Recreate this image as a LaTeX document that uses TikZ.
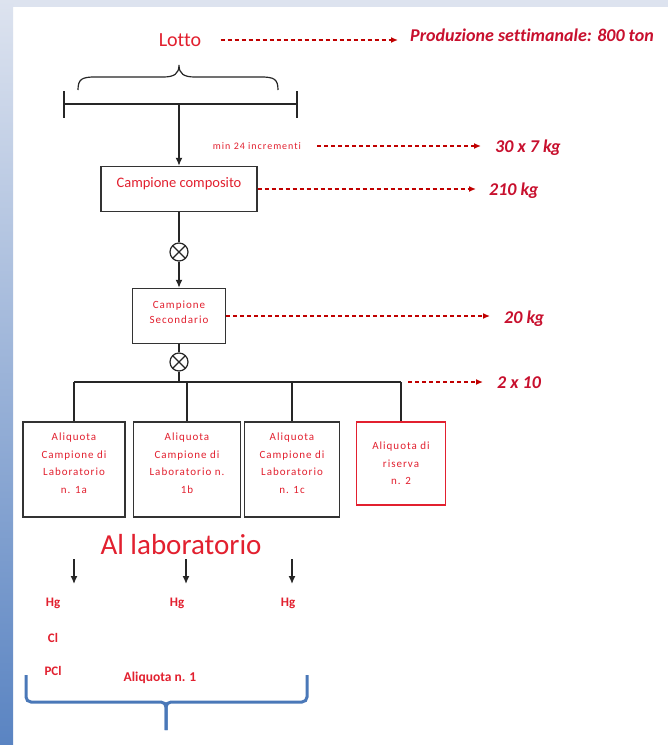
\documentclass[tikz,border=0pt]{standalone}
\usepackage{fontspec}
\setmainfont{Carlito}[Ligatures=NoCommon]
\usetikzlibrary{arrows.meta}

\definecolor{lotred}{HTML}{E2202F}
\definecolor{wtred}{HTML}{C8102E}
\definecolor{dashred}{HTML}{C00000}
\definecolor{bandtop}{HTML}{DDE3EF}
\definecolor{bandbot}{HTML}{5A84C2}
\definecolor{braceblue}{HTML}{4A78B8}

\tikzset{
    link/.style={line width=1.4pt, draw=black!85},
    flow/.style={link, -{Latex[length=8pt,width=7pt]}},
    dashto/.style={draw=dashred, line width=1.3pt, dash pattern=on 4pt off 3pt, -{Latex[length=7pt,width=6pt]}},
    weight/.style={anchor=west, text=wtred, font=\fontsize{18}{20}\selectfont\bfseries\itshape, inner sep=0pt},
    box/.style={draw=black!80, line width=1.4pt, inner sep=0pt},
    tiny/.style={text=lotred, font=\fontsize{11}{17.5}\selectfont\addfontfeature{LetterSpace=9}, align=center, inner sep=0pt},
    mixer/.style={circle, draw=black!85, line width=1.2pt, minimum size=18pt, inner sep=0pt,
        path picture={\draw[line width=1.2pt] (path picture bounding box.north west) -- (path picture bounding box.south east)
            (path picture bounding box.north east) -- (path picture bounding box.south west);}},
    analyte/.style={text=lotred, font=\fontsize{13}{15}\selectfont\bfseries, inner sep=0pt},
}

\begin{document}
\begin{tikzpicture}[x=1pt, y=-1pt]
    \useasboundingbox (0,0) rectangle (668,745);
    % slide background
    \fill[white] (0,0) rectangle (668,745);
    \fill[bandtop] (0,0) rectangle (668,7);
    \shade[top color=bandtop, bottom color=bandbot] (0,0) rectangle (13,745);

    % lotto
    \node[text=lotred, font=\fontsize{20}{22}\selectfont] (lotto) at (180,40) {Lotto};
    \node[weight] (prod) at (410,35) {Produzione settimanale: 800 ton};
    \draw[dashto] ([xshift=16pt]lotto.east) -- ([xshift=-12pt]prod.west |- lotto.east);

    \draw[link, line width=1.2pt] (78,90) .. controls (78,79) and (82,77) .. (95,77) -- (163,77)
        .. controls (174,77) and (179,74) .. (179,65) .. controls (179,74) and (184,77) .. (195,77)
        -- (261,77) .. controls (274,77) and (278,79) .. (278,90);

    \coordinate (lotL) at (64,104);
    \coordinate (lotR) at (297,104);
    \coordinate (lotC) at (179,104);
    \draw[link] (lotL) -- (lotR);
    \draw[link] (64,91) -- (64,118);
    \draw[link] (297,91) -- (297,118);

    % campione composito
    \node[box, minimum width=156pt, minimum height=45pt,
        label={[text=lotred, font=\fontsize{14.5}{16}\selectfont, yshift=5pt]center:Campione composito}] (comp) at (179,189) {};
    \draw[flow] (lotC) -- (comp);

    \node[tiny, font=\fontsize{10}{12}\selectfont\addfontfeature{LetterSpace=10}] (incr) at (257,146) {min 24 incrementi};
    \node[weight] (w30) at (495,148) {30 x 7 kg};
    \draw[dashto] ([xshift=16pt]incr.east) -- ([xshift=-14pt]w30.west |- incr.east);

    \node[weight] (w210) at (489,191) {210 kg};
    \draw[dashto, shorten >=13pt] (comp.east) -- (comp.east -| w210.west);

    % campione secondario
    \node[mixer] (mixA) at (179,252) {};
    \draw[link] (comp) -- (mixA);
    \node[box, minimum width=93pt, minimum height=55pt,
        label={[tiny, font=\fontsize{11}{15}\selectfont\addfontfeature{LetterSpace=9}, yshift=4pt]center:Campione\\Secondario}] (sec) at (179,316) {};
    \draw[flow] (mixA) -- (sec);
    \node[weight] (w20) at (504,319) {20 kg};
    \draw[dashto, shorten >=14pt] (sec.east) -- (sec.east -| w20.west);

    \node[mixer] (mixB) at (179,362) {};
    \draw[link] (sec) -- (mixB);
    \coordinate (split) at (179,382);
    \draw[link] (mixB) -- (split);

    % aliquote
    \node[box, minimum width=102pt, minimum height=95pt,
        label={[tiny, yshift=6.5pt]center:Aliquota\\Campione di\\Laboratorio\\n. 1a}] (ali1a) at (74,469.5) {};
    \node[box, minimum width=107pt, minimum height=95pt,
        label={[tiny, yshift=6.5pt]center:Aliquota\\Campione di\\Laboratorio n.\\1b}] (ali1b) at (187,469.5) {};
    \node[box, minimum width=95pt, minimum height=95pt,
        label={[tiny, yshift=6.5pt]center:Aliquota\\Campione di\\Laboratorio\\n. 1c}] (ali1c) at (292,469.5) {};
    \node[box, draw=lotred, line width=1.1pt, minimum width=89pt, minimum height=83pt,
        label={[tiny]center:Aliquota di\\riserva\\n. 2}] (aliris) at (401,463.5) {};

    \draw[link] (ali1a.north |- split) -- (aliris.north |- split);
    \foreach \b in {ali1a,ali1b,ali1c,aliris}
        \draw[link] (\b.north |- split) -- (\b.north);

    \coordinate (barR) at (402,382);
    \node[weight] (w2x10) at (497,383) {2 x 10};
    \draw[dashto, shorten <=6pt, shorten >=14pt] (barR) -- (barR -| w2x10.west);

    % al laboratorio
    \node[text=lotred, font=\fontsize{29}{31}\selectfont] (lab) at (181,545) {Al laboratorio};
    \foreach \b/\x in {ali1a/74, ali1b/186, ali1c/292}{
        \coordinate (\b-from) at (\x,559);
        \coordinate (\b-to) at (\x,584);
        \draw[flow] (\b-from) -- (\b-to);
    }

    \node[analyte] (hg1) at (53,603) {Hg};
    \node[analyte] (hg2) at (177,603) {Hg};
    \node[analyte] (hg3) at (288,603) {Hg};
    \node[analyte] (cl) at (53,638) {Cl};
    \node[analyte] (pcl) at (53,671) {PCl};
    \node[analyte, font=\fontsize{13.5}{15}\selectfont\bfseries] (aliq1) at (160,678) {Aliquota n. 1};

    \draw[braceblue, line width=3pt, rounded corners=5pt] (26,675) |- (166,702) -- (166,730);
    \draw[braceblue, line width=3pt, rounded corners=5pt] (307,675) |- (166,702) -- (166,730);

\end{tikzpicture}
\end{document}
